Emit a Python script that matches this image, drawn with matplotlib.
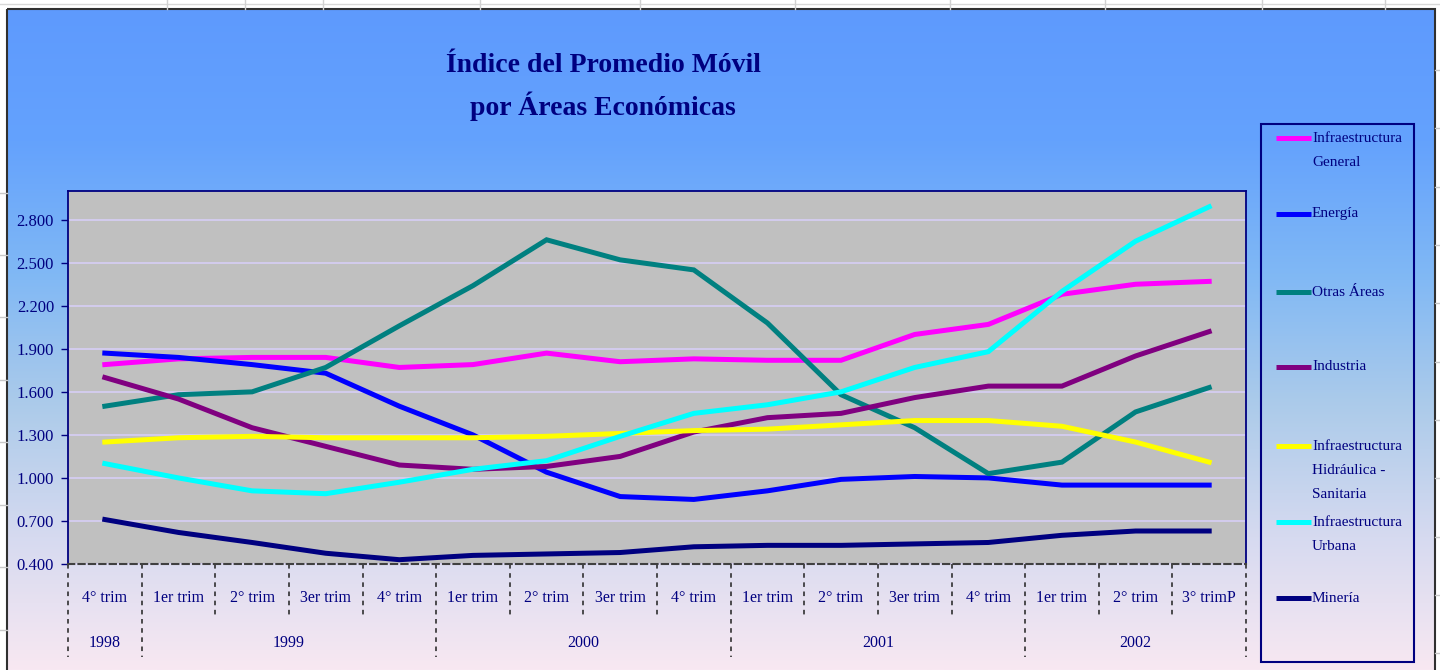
import numpy as np
import matplotlib
matplotlib.use("Agg")
import matplotlib.pyplot as plt
from matplotlib.patches import Rectangle
import matplotlib.transforms as mtransforms

# ---------------- data ----------------
quarters = ["4° trim", "1er trim", "2° trim", "3er trim", "4° trim",
            "1er trim", "2° trim", "3er trim", "4° trim",
            "1er trim", "2° trim", "3er trim", "4° trim",
            "1er trim", "2° trim", "3° trimP"]
years = ["1998", "1999", "2000", "2001", "2002"]
year_counts = [1, 4, 4, 4, 3]

infra_general = [1.79, 1.83, 1.84, 1.84, 1.77, 1.79, 1.87, 1.81, 1.83, 1.82, 1.82, 2.00, 2.07, 2.28, 2.35, 2.37]
energia       = [1.87, 1.84, 1.79, 1.73, 1.50, 1.30, 1.04, 0.87, 0.85, 0.91, 0.99, 1.01, 1.00, 0.95, 0.95, 0.95]
otras_areas   = [1.50, 1.58, 1.60, 1.77, 2.06, 2.34, 2.66, 2.52, 2.45, 2.08, 1.58, 1.35, 1.03, 1.11, 1.46, 1.63]
industria     = [1.70, 1.55, 1.35, 1.22, 1.09, 1.06, 1.08, 1.15, 1.32, 1.42, 1.45, 1.56, 1.64, 1.64, 1.85, 2.02]
infra_hidr    = [1.25, 1.28, 1.29, 1.28, 1.28, 1.28, 1.29, 1.31, 1.33, 1.34, 1.37, 1.40, 1.40, 1.36, 1.25, 1.11]
infra_urbana  = [1.10, 1.00, 0.91, 0.89, 0.97, 1.06, 1.12, 1.29, 1.45, 1.51, 1.60, 1.77, 1.88, 2.30, 2.65, 2.89]
mineria       = [0.71, 0.62, 0.55, 0.475, 0.43, 0.46, 0.47, 0.48, 0.52, 0.53, 0.53, 0.54, 0.55, 0.60, 0.63, 0.63]

series_labels = ["Infraestructura\nGeneral", "Energía", "Otras Áreas", "Industria",
                 "Infraestructura\nHidráulica -\nSanitaria", "Infraestructura\nUrbana", "Minería"]
series_values = [infra_general, energia, otras_areas, industria, infra_hidr, infra_urbana, mineria]
series_colors = ["#FF00FF", "#0000FF", "#008080", "#800080", "#FFFF00", "#00FFFF", "#000080"]

yticks = [0.4, 0.7, 1.0, 1.3, 1.6, 1.9, 2.2, 2.5, 2.8]

# ---------------- figure ----------------
W, H = 1440, 670
fig = plt.figure(figsize=(W / 100, H / 100), dpi=100)
fig.patch.set_facecolor("white")
NAVY = "#000080"
SERIF = ["Liberation Serif", "DejaVu Serif"]

# background axes in pixel coordinates
bg = fig.add_axes([0, 0, 1, 1], zorder=-10)
bg.set_xlim(0, W)
bg.set_ylim(H, 0)
bg.axis("off")

# spreadsheet cell lines outside chart
for y in [193, 255, 317, 380, 442, 505, 567, 630]:
    bg.plot([0, 7], [y, y], color="#C8C8C8", lw=1)
for y in [70, 128, 187, 245, 303, 362, 420, 478, 537, 595, 653]:
    bg.plot([1435, W], [y, y], color="#C8C8C8", lw=1)
bg.plot([0, W], [4, 4], color="#D8D8D8", lw=1)
for x in [167, 245, 323, 480, 640, 795, 950, 1105, 1262, 1385]:
    bg.plot([x, x], [0, 9], color="#D0D0D0", lw=1)

# gradient chart background
stops = np.array([0.0, 0.2, 0.4, 0.6, 0.8, 1.0])
cols = np.array([(94, 154, 254), (100, 162, 253), (128, 184, 245),
                 (172, 203, 234), (214, 218, 240), (248, 232, 242)]) / 255.0
t = np.linspace(0, 1, 400)
grad = np.stack([np.interp(t, stops, cols[:, i]) for i in range(3)], axis=1)
grad = grad[:, None, :]
bg.imshow(grad, extent=[7, 1435, 670, 9], aspect="auto", interpolation="bilinear", zorder=0)
bg.add_patch(Rectangle((7, 9), 1428, 665, fill=False, edgecolor="#303030", lw=1.5, zorder=1))

# ---------------- main axes ----------------
L, R, T, B = 68, 1246, 191, 564
ax = fig.add_axes([L / W, (H - B) / H, (R - L) / W, (B - T) / H])
ax.set_facecolor("#C0C0C0")
x = np.arange(len(quarters))
for vals, col in zip(series_values, series_colors):
    ax.plot(x, vals, color=col, lw=3.6, solid_joinstyle="miter", zorder=3)

ax.set_xlim(-0.5, len(quarters) - 0.5)
ax.set_ylim(0.4, 3.0)
ax.set_yticks(yticks)
ax.set_yticklabels([f"{v:.3f}" for v in yticks], fontfamily=SERIF, fontsize=12, color=NAVY)
ax.tick_params(axis="y", direction="out", length=5, width=1, color=NAVY, pad=5)
ax.grid(axis="y", color="#D6CEF6", lw=1.2, zorder=1)
ax.set_axisbelow(True)

for s in ["left", "top", "right"]:
    ax.spines[s].set_color(NAVY)
    ax.spines[s].set_linewidth(1.3)
ax.spines["bottom"].set_color("#404040")
ax.spines["bottom"].set_linestyle((0, (3, 2)))
ax.spines["bottom"].set_linewidth(1.5)

# category labels
ax.set_xticks([])
trans = mtransforms.blended_transform_factory(ax.transData, ax.transAxes)
for i, q in enumerate(quarters):
    ax.text(i, -0.091, q, transform=trans, ha="center", va="center",
            fontfamily=SERIF, fontsize=11.5, color=NAVY)

# separators
year_bounds = np.cumsum([0] + year_counts) - 0.5
for k in range(len(quarters) + 1):
    xs = k - 0.5
    ybot = -0.25 if np.any(np.isclose(year_bounds, xs)) else -0.137
    ax.plot([xs, xs], [0, ybot], transform=trans, clip_on=False,
            color="#202020", lw=1.1, linestyle=(0, (3, 3)))

# year labels
start = 0
for yr, n in zip(years, year_counts):
    center = start + (n - 1) / 2
    ax.text(center, -0.212, yr, transform=trans, ha="center", va="center",
            fontfamily=SERIF, fontsize=11.5, color=NAVY)
    start += n

# ---------------- title ----------------
fig.text(603 / W, 1 - 87 / H, "Índice del Promedio Móvil\npor Áreas Económicas",
         ha="center", va="center", fontfamily=SERIF, fontweight="bold",
         fontsize=20, color=NAVY, linespacing=1.6)

# ---------------- legend (drawn in pixel coords) ----------------
bg.add_patch(Rectangle((1261, 124), 153, 538, fill=False, edgecolor=NAVY, lw=1.5, zorder=2))
leg_y = [138, 214, 292, 367, 446, 522, 598]
for lab, col, yy in zip(series_labels, series_colors, leg_y):
    bg.plot([1276, 1311], [yy, yy], color=col, lw=3.6, solid_capstyle="butt", zorder=3)
    for j, line in enumerate(lab.split("\n")):
        bg.text(1312, yy + j * 24, line, ha="left", va="center",
                fontfamily=SERIF, fontsize=11, color=NAVY, zorder=3)

fig.savefig("out.png", dpi=100)
